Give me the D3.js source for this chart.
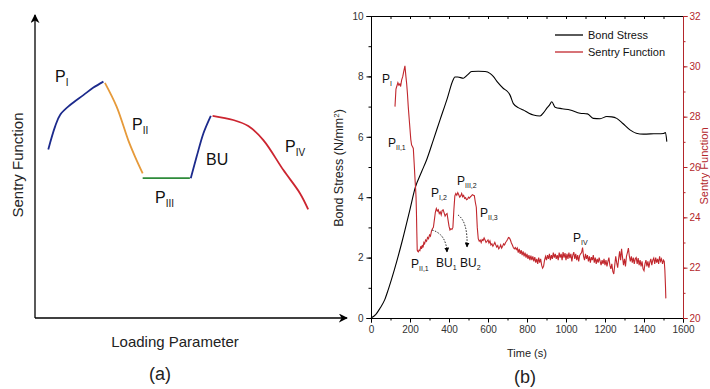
<!DOCTYPE html>
<html>
<head>
<meta charset="utf-8">
<script src="https://cdn.jsdelivr.net/npm/d3@7"></script>
<style>
  body { margin: 0; background: #fff; }
  svg { display: block; font-family: "Liberation Sans", Arial, sans-serif; }
</style>
</head>
<body>
<svg id="chart" width="710" height="389"></svg>
<script>
// ---- panel (a): schematic segments, in 0-100 units ----
const phaseI = [[4.5, 56.2], [6.8, 63.8], [8.5, 67.7], [11.9, 71], [16.4, 74.3], [19.8, 76.8], [23.2, 78.8]];
const phaseII = [[23.7, 78.4], [27.7, 70.4], [31.6, 59.3], [33.9, 53.8], [36.5, 48.2]];
const phaseIII = [[36.5, 46.6], [52.5, 46.6]];
const phaseBU = [[52.8, 46.6], [54.8, 53.8], [57.1, 61.6], [59.6, 67.4]];
const phaseIV = [[60.2, 67.4], [67.2, 66], [72.3, 64], [77.4, 59.3], [84.2, 49.3], [89.8, 41.6], [92.6, 36.2]];

// ---- panel (b): bond stress (N/mm2) vs time (s) ----
const bondTime = [0, 25, 46, 70, 89, 120, 160, 200, 226, 260, 286, 320, 354, 390, 422, 430, 445, 474, 495, 516, 550, 585, 610, 627, 650, 679, 700, 713, 730, 760, 781, 810, 833, 867, 885, 901, 915, 927, 944, 980, 1021, 1072, 1110, 1140, 1175, 1209, 1235, 1260, 1290, 1328, 1360, 1397, 1450, 1500, 1510, 1517];
const bondStress = [0, 0.12, 0.32, 0.6, 0.95, 1.6, 2.55, 3.6, 4.3, 4.85, 5.25, 5.9, 6.56, 7.25, 7.9, 7.98, 7.98, 7.94, 8.05, 8.16, 8.17, 8.16, 8.1, 8.0, 7.8, 7.6, 7.5, 7.38, 7.1, 6.95, 6.89, 6.78, 6.72, 6.69, 6.8, 6.94, 7.05, 7.16, 6.98, 6.93, 6.89, 6.78, 6.76, 6.61, 6.6, 6.67, 6.66, 6.61, 6.45, 6.23, 6.12, 6.09, 6.1, 6.11, 6.14, 5.84];

// ---- panel (b): sentry function vs time (s) ----
const sentryTime = [123, 128, 132, 138, 143, 148, 152, 157, 163, 168, 174, 179, 183, 187, 191, 196, 200, 204, 208, 213, 217, 221, 226, 229, 231, 233, 235, 237, 240, 243, 247, 251, 255, 259, 263, 267, 271, 275, 280, 285, 290, 295, 300, 305, 310, 315, 320, 325, 330, 335, 340, 345, 350, 355, 360, 365, 370, 375, 380, 385, 390, 395, 400, 405, 410, 415, 420, 425, 430, 435, 440, 445, 450, 455, 460, 465, 470, 475, 480, 485, 490, 495, 500, 505, 510, 515, 520, 525, 530, 535, 540, 545, 550, 555, 560, 565, 570, 575, 580, 585, 590, 595, 600, 605, 610, 615, 620, 625, 630, 635, 640, 645, 650, 655, 660, 665, 670, 675, 680, 685, 690, 695, 700, 705, 710, 715, 720, 725, 730, 735, 740, 745, 750, 755, 760, 765, 770, 775, 780, 785, 790, 795, 800, 805, 810, 815, 820, 825, 830, 835, 840, 845, 850, 855, 860, 865, 870, 875, 880, 885, 890, 895, 900, 905, 910, 915, 920, 925, 930, 935, 940, 945, 950, 955, 960, 965, 970, 975, 980, 985, 990, 995, 1000, 1005, 1010, 1015, 1020, 1025, 1030, 1035, 1040, 1045, 1050, 1055, 1060, 1065, 1070, 1075, 1080, 1085, 1090, 1095, 1100, 1105, 1110, 1115, 1120, 1125, 1130, 1135, 1140, 1145, 1150, 1155, 1160, 1165, 1170, 1175, 1180, 1185, 1190, 1195, 1200, 1205, 1210, 1215, 1220, 1225, 1230, 1235, 1240, 1245, 1250, 1255, 1260, 1265, 1270, 1275, 1280, 1285, 1290, 1295, 1300, 1305, 1310, 1315, 1320, 1325, 1330, 1335, 1340, 1345, 1350, 1355, 1360, 1365, 1370, 1375, 1380, 1385, 1390, 1395, 1400, 1405, 1410, 1415, 1420, 1425, 1430, 1435, 1440, 1445, 1450, 1455, 1460, 1465, 1470, 1475, 1480, 1485, 1490, 1495, 1500, 1504, 1507, 1510, 1512];
const sentryValue = [28.4, 29.1, 29.2, 29.35, 29.25, 29.3, 29.2, 29.45, 29.6, 29.8, 30.02, 29.6, 29.3, 28.9, 28.4, 27.9, 27.5, 27.1, 26.88, 26.8, 26.74, 26.2, 25.48, 25.1, 24.8, 24.2, 23.4, 22.7, 22.65, 22.63, 22.7, 22.68, 22.85, 22.75, 22.9, 22.8, 23.0, 22.95, 23.1, 23.05, 23.2, 23.15, 23.3, 23.25, 23.45, 23.55, 23.6, 23.9, 24.2, 24.35, 24.25, 24.3, 24.15, 24.22, 24.1, 24.28, 24.3, 24.18, 24.05, 24.12, 24.15, 23.9, 23.65, 23.5, 23.55, 23.52, 23.6, 24.3, 24.85, 24.95, 24.88, 24.98, 24.9, 24.8, 24.85, 24.95, 24.82, 24.87, 24.75, 24.78, 24.7, 24.72, 24.8, 24.76, 24.82, 24.85, 24.9, 24.88, 24.86, 24.6, 24.4, 23.6, 23.15, 23.05, 23.1, 23.0, 23.12, 23.08, 23.18, 23.1, 23.0, 23.05, 23.1, 22.98, 23.06, 22.9, 22.95, 22.85, 22.92, 23.0, 22.9, 22.82, 22.88, 22.75, 22.8, 22.9, 22.78, 22.85, 22.95, 22.9, 23.0, 23.05, 23.12, 23.2, 23.18, 23.1, 22.98, 22.9, 22.8, 22.75, 22.8, 22.72,
  22.78, 22.6, 22.75, 22.55, 22.7, 22.5, 22.65, 22.45, 22.6, 22.4,
  22.55, 22.35, 22.5, 22.3, 22.48, 22.3, 22.45, 22.25, 22.42, 22.2,
  22.35, 22.15, 22.4, 22.2, 22.35, 22.1, 21.98, 22.05, 22.3, 22.45,
  22.3, 22.5, 22.35, 22.55, 22.3, 22.5, 22.35, 22.6, 22.4, 22.55,
  22.35, 22.5, 22.3, 22.6, 22.4, 22.55, 22.3, 22.62, 22.4, 22.58,
  22.3, 22.55, 22.35, 22.6, 22.38, 22.55, 22.25, 22.5, 22.62, 22.35,
  22.55, 22.3, 22.5, 22.25, 22.48, 22.55, 22.6, 22.8, 22.45, 22.3,
  22.55, 22.35, 22.5, 22.25, 22.45, 22.2, 22.42, 22.3, 22.5, 22.2,
  22.4, 22.15, 22.35, 22.2, 22.4, 22.25, 22.1, 22.3, 22.15, 22.35,
  22.1, 22.3, 22.05, 22.25, 22.4, 22.1, 21.95, 22.15, 21.85, 21.75,
  22.1, 22.45, 22.2, 22.0, 22.35, 22.65, 22.3, 22.75, 22.4, 22.1,
  22.35, 22.05, 22.45, 22.6, 22.78, 22.45, 22.25, 22.45, 22.2, 22.4,
  22.15, 22.35, 22.4, 22.15, 22.38, 22.1, 22.3, 22.05, 22.25, 21.95,
  21.88, 22.15, 22.3, 22.05, 22.25, 22.0, 22.22, 22.35, 22.1, 22.3,
  22.38, 22.15, 22.4, 22.2, 22.35, 22.15, 22.45, 22.25, 22.35, 22.15,
  22.3, 22.25, 21.9, 21.3, 20.78];

const leftTicks = [0, 2, 4, 6, 8, 10];
const rightTicks = [20, 22, 24, 26, 28, 30, 32];
const timeTicks = [0, 200, 400, 600, 800, 1000, 1200, 1400, 1600];

const svg = d3.select('#chart');
const red = '#c1272d';
const axisRed = '#b3262b';

// ================= panel (a) =================
const ax = d3.scaleLinear().domain([0, 100]).range([35, 330]);
const ay = d3.scaleLinear().domain([0, 100]).range([318, 18]);
const aLine = d3.line().x((d) => ax(d[0])).y((d) => ay(d[1])).curve(d3.curveCatmullRom);

svg.append('defs').html(
  '<marker id="ah" viewBox="0 0 10 10" refX="9" refY="5" markerWidth="9" markerHeight="9" orient="auto" markerUnits="userSpaceOnUse">' +
  '<path d="M0,0 L10,5 L0,10 L3,5 Z" fill="#000"/></marker>' +
  '<marker id="dh" viewBox="0 0 10 10" refX="9" refY="5" markerWidth="5" markerHeight="5" orient="auto" markerUnits="userSpaceOnUse">' +
  '<path d="M0,0 L10,5 L0,10 Z" fill="#000"/></marker>'
);

// axes with arrows
svg.append('line').attr('x1', 35).attr('y1', 318).attr('x2', 35).attr('y2', 15)
  .attr('stroke', '#000').attr('stroke-width', 1.3).attr('marker-end', 'url(#ah)');
svg.append('line').attr('x1', 35).attr('y1', 318).attr('x2', 347).attr('y2', 318)
  .attr('stroke', '#000').attr('stroke-width', 1.3).attr('marker-end', 'url(#ah)');

const segs = [
  [phaseI, '#1c2a8c'],
  [phaseII, '#e69a3a'],
  [phaseIII, '#2e8b3a'],
  [phaseBU, '#1c2a8c'],
  [phaseIV, '#cc2530'],
];
segs.forEach(([d, c]) => {
  svg.append('path').attr('d', aLine(d)).attr('fill', 'none')
    .attr('stroke', c).attr('stroke-width', 1.8);
});

function label(x, y, main, sub, size, subSize, color) {
  const t = svg.append('text').attr('x', x).attr('y', y)
    .attr('font-size', size).attr('fill', color || '#111');
  t.append('tspan').text(main);
  if (sub) t.append('tspan').attr('font-size', subSize).attr('dy', size * 0.25).text(sub);
  return t;
}

label(55, 82, 'P', 'I', 16, 10);
label(132, 130, 'P', 'II', 16, 10);
label(206, 165, 'BU', null, 16);
label(155, 203, 'P', 'III', 16, 10);
label(285, 152, 'P', 'IV', 16, 10);

svg.append('text').attr('transform', 'translate(23,165) rotate(-90)')
  .attr('text-anchor', 'middle').attr('font-size', 15).attr('fill', '#222')
  .text('Sentry Function');
svg.append('text').attr('x', 175).attr('y', 347).attr('text-anchor', 'middle')
  .attr('font-size', 15).attr('fill', '#222').text('Loading Parameter');
svg.append('text').attr('x', 160).attr('y', 380).attr('text-anchor', 'middle')
  .attr('font-size', 18).attr('fill', '#222').text('(a)');

// ================= panel (b) =================
const pLeft = 371, pRight = 683, pTop = 16, pBottom = 318;
const x = d3.scaleLinear().domain([0, 1600]).range([pLeft, pRight]);
const yL = d3.scaleLinear().domain([0, 10]).range([pBottom, pTop]);
const yR = d3.scaleLinear().domain([20, 32]).range([pBottom, pTop]);

const g = svg.append('g');

function styleAxis(sel, color) {
  sel.selectAll('path').attr('stroke', color).attr('stroke-width', 1);
  sel.selectAll('line').attr('stroke', color);
  sel.selectAll('text').attr('fill', color === '#000' ? '#333' : color)
    .attr('font-size', 10).attr('font-family', '"Liberation Sans", Arial, sans-serif');
}

// minor ticks first
g.append('g').attr('transform', `translate(0,${pBottom})`)
  .call(d3.axisBottom(x).ticks(16).tickSize(2.5).tickFormat(''))
  .call((s) => styleAxis(s, '#000'));
g.append('g').attr('transform', `translate(0,${pBottom})`)
  .call(d3.axisBottom(x).tickValues(timeTicks).tickSize(4.5).tickPadding(3).tickFormat(d3.format('d')))
  .call((s) => styleAxis(s, '#000'));
g.append('g').attr('transform', `translate(0,${pTop})`)
  .call(d3.axisBottom(x).ticks(16).tickSize(3).tickFormat(''))
  .call((s) => styleAxis(s, '#000'));
g.append('g').attr('transform', `translate(${pLeft},0)`)
  .call(d3.axisLeft(yL).ticks(10).tickSize(2.5).tickFormat(''))
  .call((s) => styleAxis(s, '#000'));
g.append('g').attr('transform', `translate(${pLeft},0)`)
  .call(d3.axisLeft(yL).tickValues(leftTicks).tickSize(4.5).tickPadding(3).tickFormat(d3.format('d')))
  .call((s) => styleAxis(s, '#000'));
g.append('g').attr('transform', `translate(${pRight},0)`)
  .call(d3.axisRight(yR).ticks(12).tickSize(2.5).tickFormat(''))
  .call((s) => styleAxis(s, axisRed));
g.append('g').attr('transform', `translate(${pRight},0)`)
  .call(d3.axisRight(yR).tickValues(rightTicks).tickSize(4.5).tickPadding(2).tickFormat(d3.format('d')))
  .call((s) => styleAxis(s, axisRed));

// series
const bondLine = d3.line().x((d, i) => x(bondTime[i])).y((d) => yL(d)).curve(d3.curveMonotoneX);
g.append('path').attr('d', bondLine(bondStress)).attr('fill', 'none')
  .attr('stroke', '#000').attr('stroke-width', 1.1);

const sentryLine = d3.line().x((d, i) => x(sentryTime[i])).y((d) => yR(d));
g.append('path').attr('d', sentryLine(sentryValue)).attr('fill', 'none')
  .attr('stroke', red).attr('stroke-width', 1.1);

// legend
const legend = g.append('g');
[['Bond Stress', '#000', 35], ['Sentry Function', red, 52]].forEach(([name, c, ly]) => {
  legend.append('line').attr('x1', 555).attr('x2', 583).attr('y1', ly).attr('y2', ly)
    .attr('stroke', c).attr('stroke-width', 1.3);
  legend.append('text').attr('x', 588).attr('y', ly + 4).attr('font-size', 11)
    .attr('fill', '#111').text(name);
});

// phase labels
label(382, 83, 'P', 'I', 12, 7);
label(388, 147, 'P', 'II,1', 12, 7);
label(431, 197, 'P', 'I,2', 12, 7);
label(457, 185, 'P', 'III,2', 12, 7);
label(480, 217, 'P', 'II,3', 12, 7);
label(411, 268, 'P', 'II,1', 12, 7);
label(436, 267, 'BU', '1', 12, 7);
label(460, 267, 'BU', '2', 12, 7);
label(573, 242, 'P', 'IV', 12, 7);

// dotted arrows
g.append('path').attr('d', 'M432,230 Q446,234 447,252').attr('fill', 'none')
  .attr('stroke', '#000').attr('stroke-width', 0.9).attr('stroke-dasharray', '1.5,1.5')
  .attr('marker-end', 'url(#dh)');
g.append('path').attr('d', 'M458,215 Q468,222 467,247').attr('fill', 'none')
  .attr('stroke', '#000').attr('stroke-width', 0.9).attr('stroke-dasharray', '1.5,1.5')
  .attr('marker-end', 'url(#dh)');

// axis titles
const bt = g.append('text').attr('transform', 'translate(343,168) rotate(-90)')
  .attr('text-anchor', 'middle').attr('font-size', 12.5).attr('fill', '#222');
bt.append('tspan').text('Bond Stress (N/mm');
bt.append('tspan').attr('font-size', 8).attr('dy', -4.5).text('2');
bt.append('tspan').attr('dy', 4.5).text(')');

g.append('text').attr('transform', 'translate(708,166) rotate(-90)')
  .attr('text-anchor', 'middle').attr('font-size', 11).attr('fill', axisRed)
  .text('Sentry Function');
g.append('text').attr('x', 527).attr('y', 357).attr('text-anchor', 'middle')
  .attr('font-size', 11).attr('fill', '#222').text('Time (s)');
g.append('text').attr('x', 525).attr('y', 383).attr('text-anchor', 'middle')
  .attr('font-size', 18).attr('fill', '#222').text('(b)');
</script>
</body>
</html>
